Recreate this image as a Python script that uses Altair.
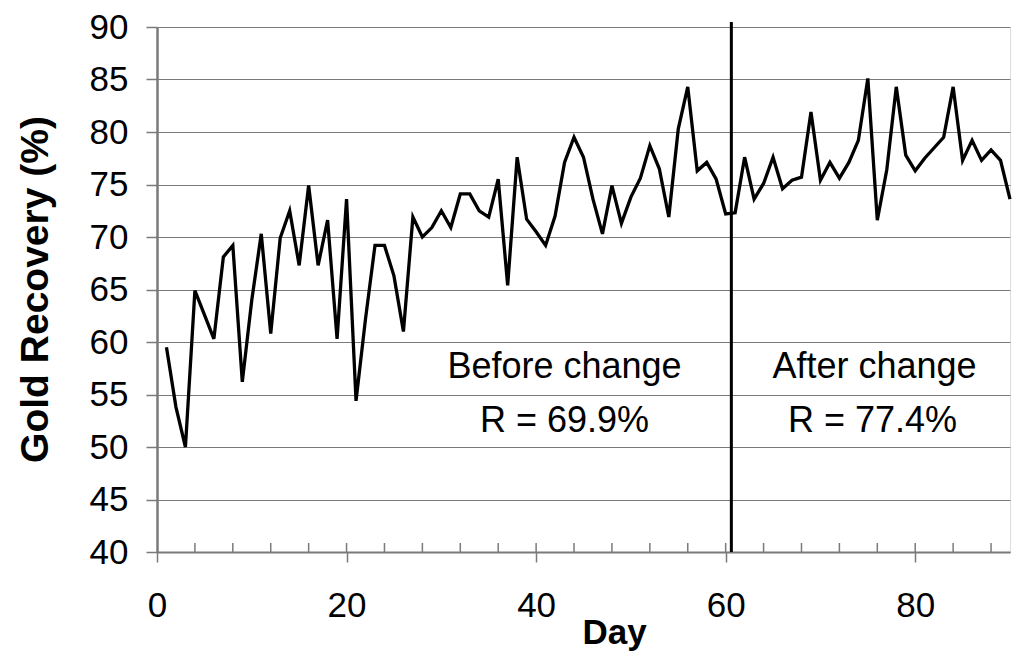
import altair as alt
import pandas as pd

# Daily gold recovery (%) for days 1..90
days = list(range(1, 91))
recovery = [
    59.5, 53.8, 50.0, 64.9, 62.6, 60.3, 68.1, 69.2, 56.2, 64.0,
    70.3, 60.8, 69.9, 72.5, 67.3, 74.9, 67.3, 71.6, 60.3, 73.6,
    54.4, 62.2, 69.2, 69.2, 66.3, 61.0, 71.9, 70.0, 70.9, 72.5,
    70.9, 74.1, 74.1, 72.5, 71.9, 75.5, 65.4, 77.6, 71.7, 70.5,
    69.2, 72.0, 77.1, 79.5, 77.6, 73.6, 70.3, 74.9, 71.3, 73.8,
    75.6, 78.7, 76.5, 71.9, 80.3, 84.3, 76.3, 77.1, 75.5, 72.2,
    72.3, 77.6, 73.6, 75.1, 77.6, 74.6, 75.4, 75.7, 81.9, 75.4,
    77.1, 75.6, 77.1, 79.2, 85.1, 71.6, 76.4, 84.3, 77.8, 76.3,
    77.5, 78.5, 79.5, 84.3, 77.3, 79.2, 77.3, 78.3, 77.3, 73.6,
]

change_day = [60.6]

x_major_ticks = [0, 20, 40, 60, 80]
x_minor_ticks = list(range(4, 90, 4))
y_ticks = list(range(40, 95, 5))

anno_text = ["Before change", "R = 69.9%", "After change", "R = 77.4%"]
anno_day = [43.0, 43.0, 75.7, 75.5]
anno_value = [56.6, 51.4, 56.6, 51.4]

FONT = "Liberation Sans"
W, H = 853, 525
GRAY = "#7a7a7a"

df = pd.DataFrame({"day": days, "rec": recovery})
df_change = pd.DataFrame({"day": change_day})
df_minor = pd.DataFrame({"day": x_minor_ticks})
df_anno = pd.DataFrame({"t": anno_text, "day": anno_day, "v": anno_value})

xscale = alt.Scale(domain=[0, 90], nice=False, zero=False)
yscale = alt.Scale(domain=[40, 90], nice=False, zero=False)

line = alt.Chart(df).mark_line(color="black", strokeWidth=3.3).encode(
    x=alt.X("day:Q", scale=xscale,
            axis=alt.Axis(values=x_major_ticks, title="Day", grid=False,
                          tickSize=10, tickColor=GRAY, tickWidth=1.5,
                          domainColor=GRAY, domainWidth=2,
                          labelFont=FONT, labelFontSize=35, labelColor="black",
                          labelPadding=26, labelFlush=False,
                          titleFont=FONT, titleFontSize=35, titleFontWeight="bold",
                          titleColor="black", titleX=457, titleY=91,
                          titleBaseline="alphabetic", titleAlign="center")),
    y=alt.Y("rec:Q", scale=yscale,
            axis=alt.Axis(values=y_ticks, title="Gold Recovery (%)", grid=True,
                          gridColor=GRAY, gridWidth=1.2,
                          tickSize=11, tickColor=GRAY, tickWidth=1.5,
                          domainColor=GRAY, domainWidth=2.5,
                          labelFont=FONT, labelFontSize=35, labelColor="black",
                          labelPadding=18, labelFlush=False,
                          titleFont=FONT, titleFontSize=39, titleFontWeight="bold",
                          titleColor="black", titleAngle=270, titleX=-110, titleY=262,
                          titleBaseline="alphabetic", titleAlign="center")),
)

minor = alt.Chart(df_minor).mark_rule(color=GRAY, strokeWidth=1.5).encode(
    x=alt.X("day:Q", scale=xscale),
    y=alt.value(H),
    y2=alt.value(H - 9),
)

vline = alt.Chart(df_change).mark_rule(color="black", strokeWidth=3).encode(
    x=alt.X("day:Q", scale=xscale),
    y=alt.value(-5),
    y2=alt.value(H),
)

text = alt.Chart(df_anno).mark_text(font=FONT, fontSize=36, color="black",
                                    align="center", baseline="alphabetic").encode(
    x=alt.X("day:Q", scale=xscale),
    y=alt.Y("v:Q", scale=yscale),
    text="t:N",
)

chart = alt.layer(minor, line, vline, text).properties(
    width=W, height=H,
    autosize=alt.AutoSizeParams(type="none"),
    padding={"left": 149, "top": 19, "right": 6, "bottom": 100},
).configure_view(stroke=GRAY, strokeWidth=2.5).configure(background="white")

chart.save("out.html", embed_options={"renderer": "svg", "actions": False})
